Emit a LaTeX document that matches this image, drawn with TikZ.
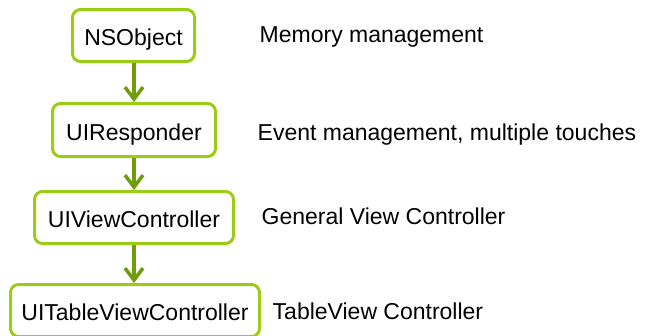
\documentclass[tikz,border=0pt]{standalone}
\usepackage{fontspec}
\setmainfont{Liberation Sans}
\usetikzlibrary{arrows.meta}
\definecolor{boxgreen}{HTML}{9BCC14}
\definecolor{arrowgreen}{HTML}{6E9C0A}
\tikzset{
  classbox/.style={draw=boxgreen, line width=3pt, rounded corners=8pt, fill=white,
    inner sep=0pt, text height=21pt, text depth=1pt, align=center,
    font=\fontsize{23}{27}\selectfont},
  desc/.style={anchor=base west, inner sep=0pt, font=\fontsize{23}{27}\selectfont},
  inherit/.style={draw=arrowgreen, line width=3.5pt,
    -{Straight Barb[length=12pt,width=18pt]}}
}
\begin{document}
\begin{tikzpicture}[x=1pt,y=-1pt]
\useasboundingbox (0,0) rectangle (645,335);
\clip (0,0) rectangle (645,335);
\node[classbox, minimum width=122pt, minimum height=52pt] (ns) at (133.5,35.5) {NSObject};
\node[classbox, minimum width=163pt, minimum height=53pt] (ur) at (134,130) {UIResponder};
\node[classbox, minimum width=199pt, minimum height=52pt] (vc) at (134,217.5) {UIViewController};
\node[classbox, minimum width=249pt, minimum height=52pt] (tvc) at (135,310.5) {UITableViewController};
\draw[inherit] (ns.south -| 134,0) -- (ur.north -| 134,0);
\draw[inherit] (ur.south -| 134,0) -- (vc.north -| 134,0);
\draw[inherit] (vc.south -| 134,0) -- (tvc.north -| 134,0);
\node[desc] (d1) at (259.5,42) {Memory management};
\node[desc] (d2) at (257.5,140) {Event management, multiple touches};
\node[desc] (d3) at (261.5,224) {General View Controller};
\node[desc] (d4) at (272.5,319) {TableView Controller};
\end{tikzpicture}
\end{document}
